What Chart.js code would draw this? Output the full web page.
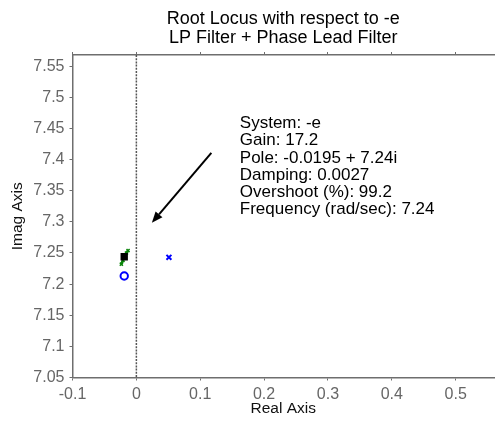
<!DOCTYPE html>
<html>
<head>
<meta charset="utf-8">
<script src="https://cdn.jsdelivr.net/npm/chart.js@4/dist/chart.umd.min.js"></script>
<style>
    html, body { margin: 0; padding: 0; background: #fff; overflow: hidden; width: 496px; height: 425px; }
    canvas { display: block; }
</style>
</head>
<body>
<canvas id="myChart" width="500" height="425"></canvas>
<script>
// axis limits and ticks
const xRange = [-0.1, 0.56];
const yRange = [7.05, 7.568];
const xTicks = [-0.1, 0, 0.1, 0.2, 0.3, 0.4, 0.5];
const yTicks = [7.05, 7.1, 7.15, 7.2, 7.25, 7.3, 7.35, 7.4, 7.45, 7.5, 7.55];

// root locus pieces (real, imag)
const locusReal = [-0.0235, -0.021, -0.018, -0.0155, -0.013];
const locusImag = [7.232, 7.238, 7.245, 7.250, 7.254];
const selectedPole = [-0.019, 7.244];
const zeroPoint = [-0.019, 7.213];
const openLoopPole = [0.051, 7.243];

// data tip
const tipLines = [
    "System: -e",
    "Gain: 17.2",
    "Pole: -0.0195 + 7.24i",
    "Damping: 0.0027",
    "Overshoot (%): 99.2",
    "Frequency (rad/sec): 7.24"
];
const tipAnchor = [0.162, 7.458];
const arrowFrom = [0.1174, 7.4108];
const arrowTo = [0.0243, 7.2985];
const dottedAt = 0;

const FONT = "'Liberation Sans', Arial, Helvetica, sans-serif";
const axisColor = '#6e6e6e';

function fixedTicks(list) {
    return (scale) => { scale.ticks = list.map(v => ({ value: v })); };
}

const overlay = {
    id: 'overlay',
    beforeDatasetsDraw(chart) {
        const { ctx, chartArea, scales } = chart;
        const px = scales.x.getPixelForValue(dottedAt);
        ctx.save();
        ctx.strokeStyle = '#555';
        ctx.lineWidth = 1.5;
        ctx.setLineDash([2, 1.2]);
        ctx.beginPath();
        ctx.moveTo(px, chartArea.top);
        ctx.lineTo(px, chartArea.bottom);
        ctx.stroke();
        ctx.restore();
    },
    afterDatasetsDraw(chart) {
        const { ctx, scales } = chart;
        const x1 = scales.x.getPixelForValue(arrowFrom[0]);
        const y1 = scales.y.getPixelForValue(arrowFrom[1]);
        const x2 = scales.x.getPixelForValue(arrowTo[0]);
        const y2 = scales.y.getPixelForValue(arrowTo[1]);
        const ang = Math.atan2(y2 - y1, x2 - x1);
        const headLen = 11, headW = 4.5;
        const bx = x2 - headLen * Math.cos(ang);
        const by = y2 - headLen * Math.sin(ang);
        ctx.save();
        ctx.strokeStyle = '#000';
        ctx.fillStyle = '#000';
        ctx.lineWidth = 2;
        ctx.beginPath();
        ctx.moveTo(x1, y1);
        ctx.lineTo(bx, by);
        ctx.stroke();
        ctx.beginPath();
        ctx.moveTo(x2, y2);
        ctx.lineTo(bx + headW * Math.sin(ang), by - headW * Math.cos(ang));
        ctx.lineTo(bx - headW * Math.sin(ang), by + headW * Math.cos(ang));
        ctx.closePath();
        ctx.fill();

        // data tip text
        const tx = scales.x.getPixelForValue(tipAnchor[0]);
        const ty = scales.y.getPixelForValue(tipAnchor[1]);
        ctx.font = '17px ' + FONT;
        ctx.textAlign = 'left';
        ctx.textBaseline = 'middle';
        tipLines.forEach((line, i) => ctx.fillText(line, tx, ty + i * 17.2));
        ctx.restore();
    }
};

const gridOpts = {
    display: true,
    drawOnChartArea: false,
    drawTicks: true,
    tickLength: 3,
    color: axisColor,
    lineWidth: 1
};
const borderOpts = { display: true, color: axisColor, width: 1.5 };

const ctx = document.getElementById('myChart').getContext('2d');
new Chart(ctx, {
    type: 'scatter',
    data: {
        datasets: [
            {
                label: 'selected',
                data: [{ x: selectedPole[0], y: selectedPole[1] }],
                pointStyle: 'rect',
                pointRadius: 5.2,
                backgroundColor: '#000',
                borderColor: '#000',
                borderWidth: 0
            },
            {
                label: 'locus',
                data: locusReal.map((r, i) => ({ x: r, y: locusImag[i] })),
                showLine: true,
                borderColor: '#0a850a',
                borderWidth: 2.5,
                pointStyle: 'crossRot',
                pointRadius: 2.2,
                pointBorderColor: '#0a850a',
                pointBorderWidth: 1.5
            },
            {
                label: 'zero',
                data: [{ x: zeroPoint[0], y: zeroPoint[1] }],
                pointStyle: 'circle',
                pointRadius: 3.7,
                backgroundColor: 'rgba(0,0,0,0)',
                borderColor: '#0000ff',
                borderWidth: 2
            },
            {
                label: 'pole',
                data: [{ x: openLoopPole[0], y: openLoopPole[1] }],
                pointStyle: 'crossRot',
                pointRadius: 3.5,
                borderColor: '#0000ff',
                borderWidth: 2
            }
        ]
    },
    options: {
        responsive: false,
        animation: false,
        layout: { padding: { left: 0, right: 2, top: 0, bottom: 0 } },
        plugins: {
            legend: { display: false },
            tooltip: { enabled: false },
            title: {
                display: true,
                fullSize: false,
                text: ['Root Locus with respect to -e', 'LP Filter + Phase Lead Filter'],
                color: '#000',
                font: { family: FONT, size: 18, weight: 'normal', lineHeight: 19 / 18 },
                padding: { top: 9.5, bottom: 7.5 }
            }
        },
        scales: {
            x: {
                type: 'linear',
                position: 'bottom',
                min: xRange[0],
                max: xRange[1],
                afterBuildTicks: fixedTicks(xTicks),
                afterFit: (s) => { s.height = 47.5; },
                grid: gridOpts,
                border: borderOpts,
                ticks: {
                    color: '#666',
                    padding: 4,
                    maxRotation: 0,
                    font: { family: FONT, size: 16 },
                    callback: (v) => String(Math.round(v * 100) / 100)
                },
                title: {
                    display: true,
                    text: 'Real Axis',
                    color: '#111',
                    font: { family: FONT, size: 15.5 },
                    padding: { top: 0, bottom: 7 }
                }
            },
            xTop: {
                type: 'linear',
                position: 'top',
                min: xRange[0],
                max: xRange[1],
                afterBuildTicks: fixedTicks(xTicks),
                afterFit: (s) => { s.height = 0; },
                grid: gridOpts,
                border: borderOpts,
                ticks: { display: false }
            },
            y: {
                type: 'linear',
                position: 'left',
                min: yRange[0],
                max: yRange[1],
                afterBuildTicks: fixedTicks(yTicks),
                afterFit: (s) => { s.width = 72.5; },
                grid: gridOpts,
                border: borderOpts,
                ticks: {
                    color: '#666',
                    padding: 5,
                    font: { family: FONT, size: 16 },
                    callback: (v) => String(Math.round(v * 100) / 100)
                },
                title: {
                    display: true,
                    text: 'Imag Axis',
                    color: '#111',
                    font: { family: FONT, size: 15.5 },
                    padding: { top: 8, bottom: 0 }
                }
            }
        }
    },
    plugins: [overlay]
});
</script>
</body>
</html>
